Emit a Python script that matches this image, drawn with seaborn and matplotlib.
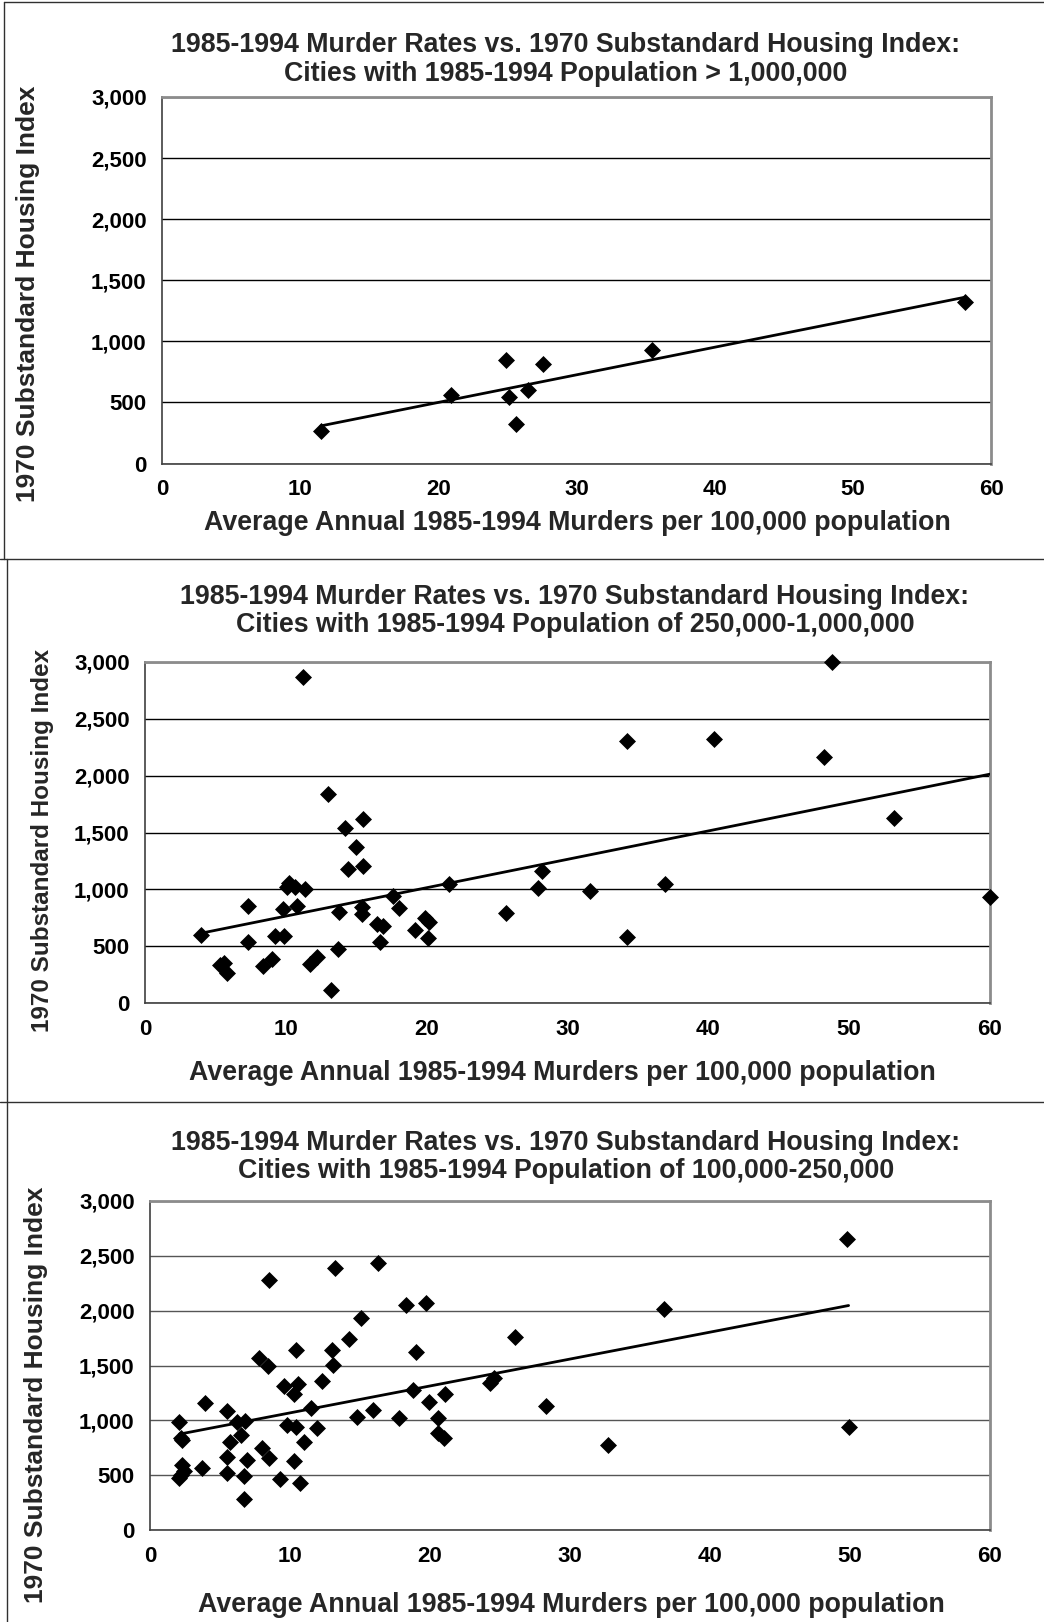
import matplotlib
matplotlib.use("Agg")
import matplotlib.pyplot as plt
import matplotlib.ticker as mticker
from matplotlib.lines import Line2D
import seaborn as sns

# ---------------- DATA ----------------
# cities with 1985-1994 population > 1,000,000
big_murder = [11.5, 20.9, 24.9, 25.1, 25.6, 26.5, 27.6, 35.5, 58.1]
big_housing = [265, 560, 850, 545, 325, 600, 815, 930, 1320]

# cities with population 250,000 - 1,000,000
mid_murder = [4.0, 11.2, 13.0, 14.2, 15.5, 15.0, 14.4, 15.5, 10.05, 10.25,
              10.65, 11.35, 7.3, 9.8, 10.8, 7.3, 9.2, 9.9, 5.3, 5.6,
              5.8, 8.4, 9.0, 11.7, 12.2, 13.2, 13.7, 13.8, 15.4, 15.4,
              16.5, 16.9, 16.7, 17.6, 18.0, 19.2, 19.9, 20.2, 20.1, 21.6,
              25.6, 28.2, 27.9, 31.6, 34.2, 34.2, 36.9, 40.4, 48.2, 48.8,
              53.2, 60.0]
mid_housing = [600, 2865, 1840, 1540, 1615, 1370, 1180, 1210, 1020, 1055,
               1025, 1000, 855, 830, 855, 540, 595, 595, 335, 355,
               265, 330, 385, 345, 410, 115, 480, 805, 850, 780,
               700, 675, 540, 940, 840, 645, 745, 710, 575, 1045,
               795, 1165, 1015, 990, 2305, 585, 1045, 2320, 2165, 3000,
               1630, 930]

# cities with population 100,000 - 250,000
small_murder = [2.1, 2.2, 2.3, 2.3, 2.4, 2.1, 2.2, 3.9, 3.7, 5.5,
                5.7, 5.5, 5.5, 6.2, 6.8, 6.5, 6.9, 6.7, 6.7, 8.5,
                7.8, 8.4, 8.0, 8.5, 9.3, 9.6, 9.8, 10.4, 10.6, 10.3,
                10.4, 11.0, 10.3, 10.7, 11.5, 11.9, 12.3, 13.0, 13.1, 13.2,
                14.2, 14.8, 15.1, 15.9, 16.3, 17.8, 18.3, 18.8, 19.0, 19.7,
                19.9, 20.6, 20.6, 21.0, 21.1, 24.3, 24.6, 26.1, 28.3, 32.7,
                36.7, 49.8, 49.9]
small_housing = [990, 840, 820, 590, 540, 480, 505, 1155, 565, 1085,
                 805, 665, 520, 990, 995, 870, 640, 495, 285, 2280,
                 1565, 1500, 750, 660, 465, 1310, 955, 1640, 1330, 1240,
                 940, 800, 635, 430, 1110, 935, 1355, 1640, 1505, 2390,
                 1740, 1030, 1930, 1095, 2430, 1025, 2050, 1275, 1620, 2070,
                 1170, 1025, 890, 840, 1240, 1345, 1390, 1755, 1135, 775,
                 2010, 2650, 940]

title_line1 = "1985-1994 Murder Rates vs. 1970 Substandard Housing Index:"
subtitles = ["Cities with 1985-1994 Population > 1,000,000",
             "Cities with 1985-1994 Population of 250,000-1,000,000",
             "Cities with 1985-1994 Population of 100,000-250,000"]
x_label = "Average Annual 1985-1994 Murders per 100,000 population"
y_label = "1970 Substandard Housing Index"

# ---------------- STYLE ----------------
sns.set_theme(style="white")
plt.rcParams["font.family"] = ["Liberation Sans", "DejaVu Sans"]
plt.rcParams["font.weight"] = "bold"

W, H = 1044, 1622
fig = plt.figure(figsize=(W / 100, H / 100), dpi=100)
fig.patch.set_facecolor("white")


def fx(px):
    return px / W


def fy(py):
    return 1 - py / H


# panel layout in pixels: axes box, title x / y's, xlabel pos, ylabel pos, ylabel size
panels = [
    dict(box=(162, 97, 991, 463.5), t=(566, 45, 74), xl=(577, 523), yl=(28, 294), ys=19,
         grid="black"),
    dict(box=(145, 661.7, 990, 1003.3), t=(575, 597, 625), xl=(562, 1073), yl=(43, 840), ys=17.5,
         grid="black"),
    dict(box=(150, 1200.7, 990, 1530.3), t=(566, 1143, 1171), xl=(571, 1605), yl=(36, 1395), ys=19,
         grid="#555555"),
]
datasets = [(big_murder, big_housing), (mid_murder, mid_housing), (small_murder, small_housing)]

for p, (xs, ys), sub in zip(panels, datasets, subtitles):
    x0, y0, x1, y1 = p["box"]
    ax = fig.add_axes([fx(x0), fy(y1), (x1 - x0) / W, (y1 - y0) / H])

    sns.scatterplot(x=xs, y=ys, marker="D", s=75, color="black", linewidth=0,
                    clip_on=False, zorder=5, ax=ax)
    sns.regplot(x=xs, y=ys, scatter=False, ci=None, truncate=True, color="black",
                line_kws={"lw": 2, "zorder": 4}, ax=ax)

    ax.set_xlim(0, 60)
    ax.set_ylim(0, 3000)
    ax.set_xticks(range(0, 61, 10))
    ax.set_yticks(range(0, 3001, 500))
    ax.yaxis.set_major_formatter(mticker.StrMethodFormatter("{x:,.0f}"))
    ax.set_xlabel("")
    ax.set_ylabel("")
    ax.yaxis.grid(True, color=p["grid"], lw=1)
    ax.set_axisbelow(True)
    ax.tick_params(axis="both", direction="out", length=5, width=1, colors="#404040",
                   labelcolor="black", labelsize=16, pad=6)
    for side in ["left", "bottom"]:
        ax.spines[side].set_color("#404040")
        ax.spines[side].set_linewidth(1.2)
    for side in ["top", "right"]:
        ax.spines[side].set_color("#8c8c8c")
        ax.spines[side].set_linewidth(2)

    tx, ty1, ty2 = p["t"]
    fig.text(fx(tx), fy(ty1), title_line1, ha="center", va="center", fontsize=19.3)
    fig.text(fx(tx), fy(ty2), sub, ha="center", va="center", fontsize=19.3)
    fig.text(fx(p["xl"][0]), fy(p["xl"][1]), x_label, ha="center", va="center", fontsize=19.3)
    fig.text(fx(p["yl"][0]), fy(p["yl"][1]), y_label, ha="center", va="center",
             rotation=90, fontsize=p["ys"])

# ---------------- PANEL BORDERS ----------------
border_lines = [
    ([4, W], [2, 2]),
    ([4, 4], [2, 559]),
    ([0, W], [559, 559]),
    ([7, 7], [559, 1102]),
    ([0, W], [1102, 1102]),
    ([7, 7], [1102, H]),
]
for xs_, ys_ in border_lines:
    fig.add_artist(Line2D([fx(v) for v in xs_], [fy(v) for v in ys_],
                          transform=fig.transFigure, color="#303030", lw=1))

fig.savefig("out.png", dpi=100)
